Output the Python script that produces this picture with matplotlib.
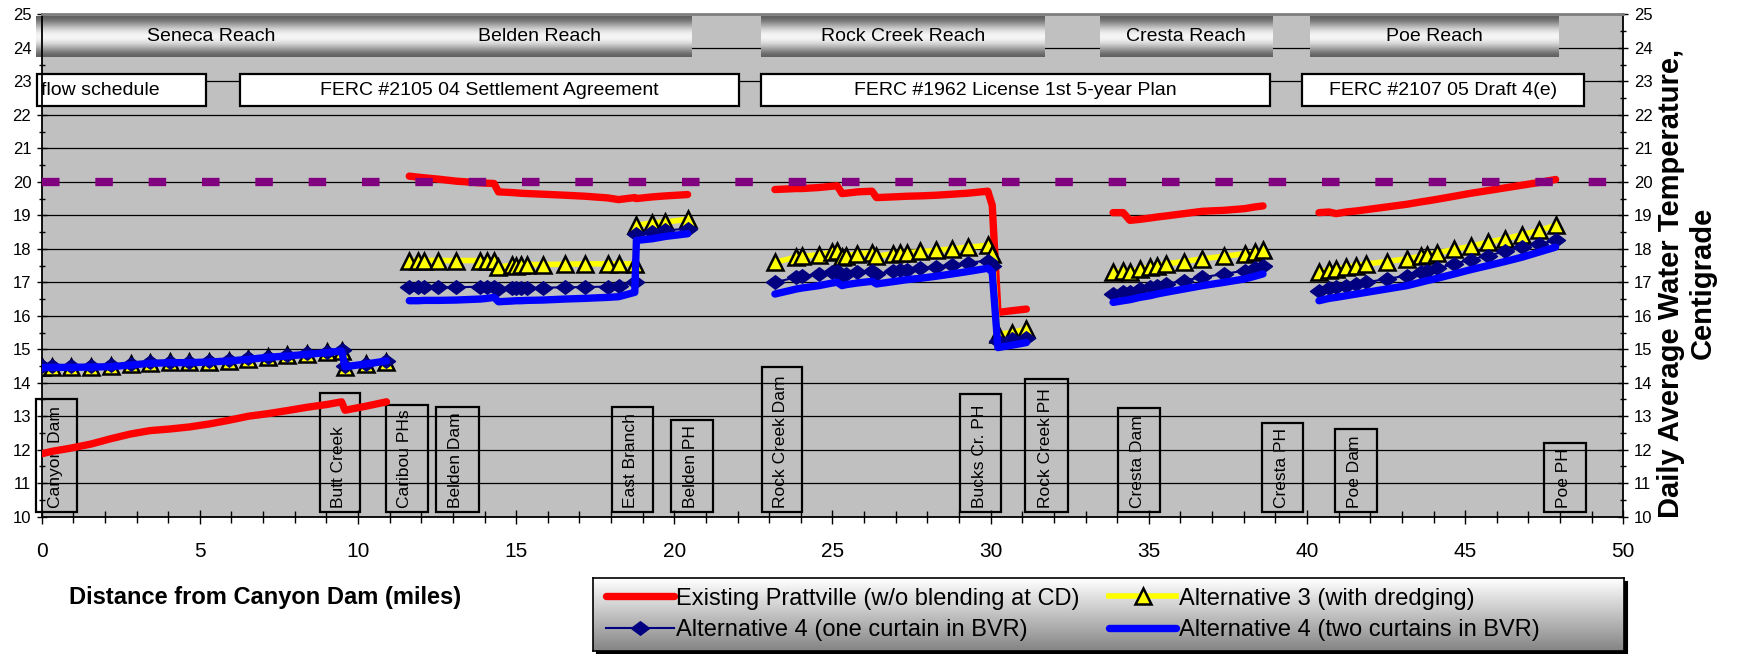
import numpy as np
import matplotlib
matplotlib.use('Agg')
import matplotlib.pyplot as plt
from matplotlib.patches import Rectangle
from matplotlib.path import Path

plt.rcParams['font.family'] = ['Liberation Sans', 'DejaVu Sans']

nan = np.nan

# # Data (river miles from Canyon Dam, deg C)

seneca_x = [0, 0.32, 0.93, 1.56, 2.19, 2.81, 3.42, 4.06, 4.67, 5.3, 5.92, 6.53, 7.17, 7.77, 8.4, 9.01, 9.48, 9.59, 10.25, 10.9]
belden_x = [11.62, 11.9, 12.1, 12.54, 13.1, 13.87, 14.08, 14.3, 14.44, 14.86, 15.0, 15.14, 15.35, 15.85, 16.55, 17.18, 17.89, 18.24, 18.75, 18.8, 19.3, 19.72, 20.42]
rock_x = [23.18, 23.86, 24.04, 24.57, 25.0, 25.15, 25.3, 25.43, 25.79, 26.25, 26.39, 26.92, 27.14, 27.35, 27.78, 28.27, 28.78, 29.27, 29.91, 30.05, 30.23, 30.66, 31.13]
cresta_x = [33.87, 34.19, 34.4, 34.72, 35.04, 35.26, 35.53, 36.11, 36.69, 37.39, 38.03, 38.35, 38.61]
poe_x = [40.38, 40.7, 40.92, 41.24, 41.56, 41.88, 42.52, 43.16, 43.59, 43.8, 44.12, 44.66, 45.19, 45.73, 46.26, 46.8, 47.33, 47.86]

# Existing Prattville (w/o blending at CD)
existing_seneca = [11.88, 11.95, 12.05, 12.17, 12.33, 12.47, 12.57, 12.62, 12.68, 12.77, 12.88, 13.0, 13.08, 13.17, 13.27, 13.35, 13.43, 13.18, 13.3, 13.43]
existing_belden = [20.17, 20.14, 20.12, 20.08, 20.02, 19.97, 19.96, 19.95, 19.7, 19.68, 19.67, 19.66, 19.65, 19.63, 19.6, 19.57, 19.52, 19.47, 19.53, 19.5, 19.55, 19.58, 19.62]
existing_rock = [19.77, 19.8, 19.8, 19.83, 19.87, 19.88, 19.65, 19.66, 19.7, 19.72, 19.53, 19.55, 19.56, 19.57, 19.58, 19.6, 19.63, 19.66, 19.72, 19.3, 16.1, 16.15, 16.2]
existing_cresta = [19.08, 19.08, 18.85, 18.88, 18.92, 18.95, 18.98, 19.05, 19.12, 19.15, 19.2, 19.25, 19.28]
existing_poe = [19.08, 19.1, 19.05, 19.1, 19.13, 19.17, 19.25, 19.33, 19.4, 19.43, 19.48, 19.57, 19.66, 19.74, 19.82, 19.9, 19.98, 20.07]

# Alternative 3 (with dredging)
alt3_seneca = [14.48, 14.48, 14.48, 14.48, 14.51, 14.55, 14.6, 14.61, 14.61, 14.63, 14.66, 14.71, 14.76, 14.82, 14.86, 14.91, 14.96, 14.48, 14.55, 14.63]
alt3_belden = [17.65, 17.65, 17.65, 17.65, 17.65, 17.65, 17.65, 17.65, 17.45, 17.52, 17.5, 17.52, 17.53, 17.53, 17.54, 17.55, 17.55, 17.55, 17.55, 18.7, 18.78, 18.8, 18.88]
alt3_rock = [17.6, 17.75, 17.78, 17.82, 17.9, 17.92, 17.75, 17.8, 17.85, 17.88, 17.78, 17.85, 17.87, 17.88, 17.92, 17.95, 18.0, 18.05, 18.1, 17.85, 15.45, 15.5, 15.6]
alt3_cresta = [17.3, 17.35, 17.3, 17.4, 17.45, 17.5, 17.55, 17.62, 17.7, 17.78, 17.85, 17.9, 17.95]
alt3_poe = [17.3, 17.38, 17.4, 17.45, 17.5, 17.55, 17.62, 17.7, 17.78, 17.82, 17.88, 17.98, 18.08, 18.2, 18.3, 18.42, 18.55, 18.7]

# Alternative 4 (one curtain in BVR)
alt4a_seneca = [14.5, 14.5, 14.5, 14.5, 14.53, 14.57, 14.62, 14.63, 14.63, 14.65, 14.68, 14.73, 14.78, 14.84, 14.88, 14.93, 14.98, 14.5, 14.57, 14.65]
alt4a_belden = [16.85, 16.85, 16.85, 16.85, 16.85, 16.87, 16.87, 16.87, 16.8, 16.82, 16.82, 16.83, 16.83, 16.84, 16.85, 16.86, 16.87, 16.88, 17.02, 18.45, 18.5, 18.55, 18.6]
alt4a_rock = [17.0, 17.15, 17.18, 17.25, 17.32, 17.35, 17.2, 17.25, 17.3, 17.35, 17.25, 17.33, 17.36, 17.38, 17.42, 17.47, 17.52, 17.58, 17.65, 17.5, 15.25, 15.3, 15.35]
alt4a_cresta = [16.65, 16.72, 16.7, 16.8, 16.85, 16.9, 16.95, 17.05, 17.15, 17.25, 17.35, 17.42, 17.48]
alt4a_poe = [16.75, 16.82, 16.85, 16.9, 16.95, 17.0, 17.1, 17.2, 17.3, 17.35, 17.42, 17.55, 17.68, 17.8, 17.92, 18.05, 18.15, 18.25]

# Alternative 4 (two curtains in BVR)
alt4b_seneca = [14.45, 14.46, 14.46, 14.47, 14.48, 14.53, 14.58, 14.6, 14.6, 14.62, 14.65, 14.7, 14.76, 14.8, 14.85, 14.9, 14.95, 14.48, 14.56, 14.65]
alt4b_belden = [16.45, 16.45, 16.46, 16.46, 16.47, 16.5, 16.52, 16.55, 16.42, 16.44, 16.45, 16.45, 16.46, 16.47, 16.5, 16.52, 16.55, 16.57, 16.7, 18.25, 18.3, 18.37, 18.45]
alt4b_rock = [16.65, 16.8, 16.83, 16.9, 16.98, 17.0, 16.9, 16.93, 16.98, 17.03, 16.95, 17.02, 17.05, 17.08, 17.12, 17.18, 17.25, 17.32, 17.42, 17.3, 15.05, 15.12, 15.2]
alt4b_cresta = [16.4, 16.45, 16.48, 16.55, 16.6, 16.65, 16.7, 16.8, 16.9, 17.0, 17.1, 17.18, 17.25]
alt4b_poe = [16.45, 16.52, 16.55, 16.6, 16.65, 16.7, 16.8, 16.9, 17.0, 17.05, 17.12, 17.25, 17.38, 17.5, 17.62, 17.75, 17.9, 18.05]

standard_temp = 20.0

# reach banners and flow schedule boxes (miles)
reach_names = ['Seneca Reach', 'Belden Reach', 'Rock Creek Reach', 'Cresta Reach', 'Poe Reach']
reach_start = [-0.19, 10.93, 22.74, 33.46, 40.08]
reach_end = [10.93, 20.57, 31.7, 38.9, 47.95]

flow_names = ['flow schedule', 'FERC #2105 04 Settlement Agreement',
              'FERC #1962 License 1st 5-year Plan', 'FERC #2107 05 Draft 4(e)']
flow_start = [-0.16, 6.27, 22.74, 39.85]
flow_end = [5.2, 22.06, 38.83, 48.76]

# landmarks along the river
landmark_names = ['Canyon Dam', 'Butt Creek', 'Caribou PHs', 'Belden Dam', 'East Branch', 'Belden PH',
                  'Rock Creek Dam', 'Bucks Cr. PH', 'Rock Creek PH', 'Cresta Dam', 'Cresta PH', 'Poe Dam', 'Poe PH']
landmark_start = [-0.17, 8.8, 10.87, 12.46, 18.03, 19.89, 22.76, 29.04, 31.09, 34.02, 38.57, 40.88, 47.48]
landmark_end = [1.13, 10.07, 12.2, 13.83, 19.32, 21.22, 24.04, 30.34, 32.46, 35.36, 39.89, 42.2, 48.82]
landmark_top = [13.5, 13.68, 13.33, 13.28, 13.28, 12.9, 14.48, 13.65, 14.12, 13.25, 12.8, 12.62, 12.2]


def join(*parts):
    out = []
    for p in parts:
        out += list(p) + [nan]
    return np.array(out[:-1], dtype=float)


x_all = join(seneca_x, belden_x, rock_x, cresta_x, poe_x)
existing = join(existing_seneca, existing_belden, existing_rock, existing_cresta, existing_poe)
alt3 = join(alt3_seneca, alt3_belden, alt3_rock, alt3_cresta, alt3_poe)
alt4a = join(alt4a_seneca, alt4a_belden, alt4a_rock, alt4a_cresta, alt4a_poe)
alt4b = join(alt4b_seneca, alt4b_belden, alt4b_rock, alt4b_cresta, alt4b_poe)

# # Figure

fig = plt.figure(figsize=(17.38, 6.54), dpi=100)
ax = fig.add_axes([0.02399, 0.20994, 0.91001, 0.76804])
ax.set_facecolor('#C0C0C0')

ax.set_xlim(0, 50)
ax.set_ylim(10, 25)
ax.set_xticks(np.arange(0, 51, 5))
ax.set_xticks(np.arange(0, 51, 1), minor=True)
ax.set_yticks(np.arange(10, 26, 1))
ax.set_yticks(np.arange(10, 25.01, 0.5), minor=True)
ax.yaxis.grid(True, which='major', color='black', linewidth=0.9, zorder=0.5)
ax.set_axisbelow(True)

ax.tick_params(axis='x', which='major', direction='inout', length=10, width=1, labelsize=15, pad=13)
ax.tick_params(axis='x', which='minor', direction='inout', length=8, width=1)
ax.tick_params(axis='y', which='major', direction='inout', length=7, width=1, labelsize=12, pad=4,
               right=True, labelright=True)
ax.tick_params(axis='y', which='minor', direction='inout', length=5, width=1, right=True)
for s in ['left', 'right', 'bottom']:
    ax.spines[s].set_linewidth(1.3)
ax.spines['top'].set_color('#808080')
ax.spines['top'].set_linewidth(2)

# reach banners with a metallic gradient
t = np.linspace(0, 1, 64)
shade = (0.38 + 0.58 * np.sin(np.pi * t) ** 1.6).reshape(-1, 1)
for name, x0, x1 in zip(reach_names, reach_start, reach_end):
    ax.imshow(shade, cmap='gray', vmin=0, vmax=1, extent=[x0, x1, 23.72, 24.93],
              aspect='auto', interpolation='bilinear', zorder=2, clip_on=False)
    ax.text((x0 + x1) / 2, 24.33, name, ha='center', va='center', fontsize=14, zorder=3)

# flow schedule boxes
for i, (name, x0, x1) in enumerate(zip(flow_names, flow_start, flow_end)):
    ax.add_patch(Rectangle((x0, 22.26), x1 - x0, 0.96, facecolor='white', edgecolor='black',
                           linewidth=1.6, zorder=2, clip_on=False))
    if i == 0:
        ax.text(x0 + 0.15, 22.72, name, ha='left', va='center', fontsize=14, zorder=3)
    else:
        ax.text((x0 + x1) / 2, 22.74, name, ha='center', va='center', fontsize=14, zorder=3)

# landmark boxes
for name, x0, x1, top in zip(landmark_names, landmark_start, landmark_end, landmark_top):
    ax.add_patch(Rectangle((x0, 10.13), x1 - x0, top - 10.13, facecolor='none', edgecolor='black',
                           linewidth=1.6, zorder=2, clip_on=False))
    ax.text((x0 + x1) / 2 - 0.05, 10.27, name, rotation=90, ha='center', va='bottom',
            fontsize=12.5, zorder=3)

# series
diamond = Path([(-1, 0), (0, 0.75), (1, 0), (0, -0.75), (-1, 0)],
               [Path.MOVETO, Path.LINETO, Path.LINETO, Path.LINETO, Path.CLOSEPOLY])

l_exist, = ax.plot(x_all, existing, color='#FF0000', linewidth=5.3, solid_capstyle='round',
                   solid_joinstyle='round', zorder=4, label='Existing Prattville (w/o blending at CD)')
l_alt3, = ax.plot(x_all, alt3, color='#FFFF00', linewidth=4, marker='^', markersize=11.5,
                  markerfacecolor='#FFFF00', markeredgecolor='black', markeredgewidth=1.8,
                  zorder=4, label='Alternative 3 (with dredging)')
l_alt4a, = ax.plot(x_all, alt4a, color='#000080', linewidth=1.5, marker=diamond, markersize=13,
                   markerfacecolor='#000080', markeredgecolor='#000080', zorder=5,
                   label='Alternative 4 (one curtain in BVR)')
l_alt4b, = ax.plot(x_all, alt4b, color='#0000FF', linewidth=5.3, solid_capstyle='round',
                   solid_joinstyle='round', zorder=6, label='Alternative 4 (two curtains in BVR)')

ax.plot([0, 50], [standard_temp, standard_temp], color='#800080', linewidth=6,
        linestyle=(0, (2.1, 4.3)), dash_capstyle='butt', zorder=7)

# axis labels
fig.text(0.1525, 0.086, 'Distance from Canyon Dam (miles)', ha='center', va='center',
         fontsize=17, fontweight='bold')
fig.text(0.9705, 0.567, 'Daily Average Water Temperature,\nCentigrade', rotation=90,
         ha='center', va='center', multialignment='center', fontsize=21, fontweight='bold',
         linespacing=1.15)

# legend box with gradient and shadow
lx0, ly0, lw, lh = 593.3 / 1738, 1 - 650.7 / 654, (1624 - 593.3) / 1738, (650.7 - 578.3) / 654
shadow = fig.add_axes([lx0 + 3 / 1738, ly0 - 3 / 654, lw, lh])
shadow.set_facecolor('black')
shadow.set_xticks([])
shadow.set_yticks([])
shadow.set_zorder(1)

lax = fig.add_axes([lx0, ly0, lw, lh])
lax.set_zorder(2)
grad = np.linspace(1.0, 0.52, 64).reshape(-1, 1)
lax.imshow(grad, cmap='gray', vmin=0, vmax=1, aspect='auto', extent=[0, 1, 0, 1],
           interpolation='bilinear')
lax.set_xlim(0, 1)
lax.set_ylim(0, 1)
lax.set_xticks([])
lax.set_yticks([])
for s in lax.spines.values():
    s.set_linewidth(1.2)

# legend fills column by column: first column holds the two left-hand entries
handles = [l_exist, l_alt4a, l_alt3, l_alt4b]
lax.legend(handles, [h.get_label() for h in handles], ncol=2, loc='center left',
           bbox_to_anchor=(0, 0.5), frameon=False, fontsize=17, numpoints=1,
           handlelength=2.85, handletextpad=0.1, columnspacing=1.25, labelspacing=0.42,
           borderaxespad=0.55, borderpad=0)

fig.savefig('out.png', dpi=100)
